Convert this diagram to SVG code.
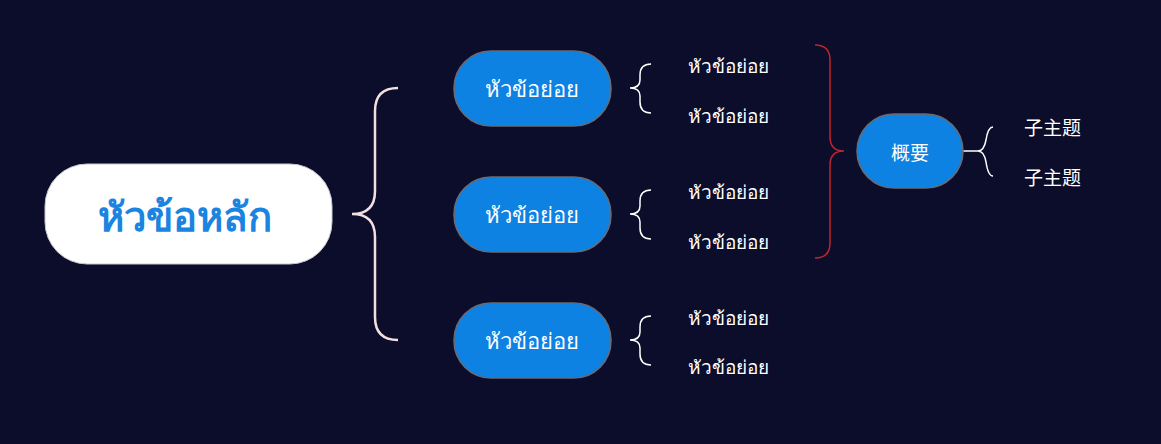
<svg xmlns="http://www.w3.org/2000/svg" width="1161" height="444" viewBox="0 0 1161 444">
<style>
.sub{fill:#0e82e2;stroke:#6a6a72;stroke-width:1.5}
.subt{font-family:"Noto Sans","DejaVu Sans",sans-serif;font-size:22px;fill:#ffffff;text-anchor:middle}
.leaf{font-family:"Noto Sans","DejaVu Sans",sans-serif;font-size:19px;fill:#ffffff}
.cjk{font-family:"Noto Sans CJK SC",sans-serif;font-size:19px;fill:#ffffff}
.br{fill:none;stroke:#ffffff;stroke-width:1.5}
</style>
<rect width="1161" height="444" fill="#0c0c2b"/>
<g id="connectors">
<path d="M398,88 Q375,88 375,111 L375,191 Q375,214 352,214 Q375,214 375,237 L375,317 Q375,340 398,340" fill="none" stroke="#f2e0e0" stroke-width="2.5"/>
<path class="br" d="M651,64 Q640,64 640,75 L640,80 Q640,88 630,88 Q640,88 640,96 L640,102 Q640,113 651,113"/>
<path class="br" d="M651,190 Q640,190 640,201 L640,206 Q640,214 630,214 Q640,214 640,222 L640,228 Q640,239 651,239"/>
<path class="br" d="M651,316 Q640,316 640,327 L640,332 Q640,340 630,340 Q640,340 640,348 L640,354 Q640,365 651,365"/>
<path d="M815,45 Q830,45 830,60 L830,137 Q830,151 844,151 Q830,151 830,165 L830,243 Q830,258 815,258" fill="none" stroke="#c0252b" stroke-width="1.5"/>
<path class="br" d="M963,151 L978,151 Q984,151 986,140 Q988,127 993,127 M978,151 Q984,151 986,162 Q988,176 993,176"/>
</g>
<g id="main">
<rect x="45" y="164" width="287" height="100" rx="42" fill="#ffffff" stroke="#c8c8d0" stroke-width="1"/>
<text x="185" y="231" font-family="Noto Sans,DejaVu Sans,sans-serif" font-size="40" font-weight="bold" fill="#1a84e0" text-anchor="middle">หัวข้อหลัก</text>
</g>
<g id="sub1">
<rect class="sub" x="454" y="51" width="157" height="75" rx="37"/>
<text class="subt" x="532" y="97">หัวข้อย่อย</text>
</g>
<g id="sub2">
<rect class="sub" x="454" y="177" width="157" height="75" rx="37"/>
<text class="subt" x="532" y="223">หัวข้อย่อย</text>
</g>
<g id="sub3">
<rect class="sub" x="454" y="303" width="157" height="75" rx="37"/>
<text class="subt" x="532" y="349">หัวข้อย่อย</text>
</g>
<g id="leaf1"><text class="leaf" x="688" y="73">หัวข้อย่อย</text></g>
<g id="leaf2"><text class="leaf" x="688" y="123">หัวข้อย่อย</text></g>
<g id="leaf3"><text class="leaf" x="688" y="199">หัวข้อย่อย</text></g>
<g id="leaf4"><text class="leaf" x="688" y="249">หัวข้อย่อย</text></g>
<g id="leaf5"><text class="leaf" x="688" y="325">หัวข้อย่อย</text></g>
<g id="leaf6"><text class="leaf" x="688" y="374">หัวข้อย่อย</text></g>
<g id="summary">
<rect class="sub" x="857" y="114" width="106" height="74" rx="37"/>
<text class="cjk" x="910" y="160" text-anchor="middle" font-size="22">概要</text>
</g>
<g id="topic1"><text class="cjk" x="1024" y="135">子主题</text></g>
<g id="topic2"><text class="cjk" x="1024" y="185">子主题</text></g>
</svg>
